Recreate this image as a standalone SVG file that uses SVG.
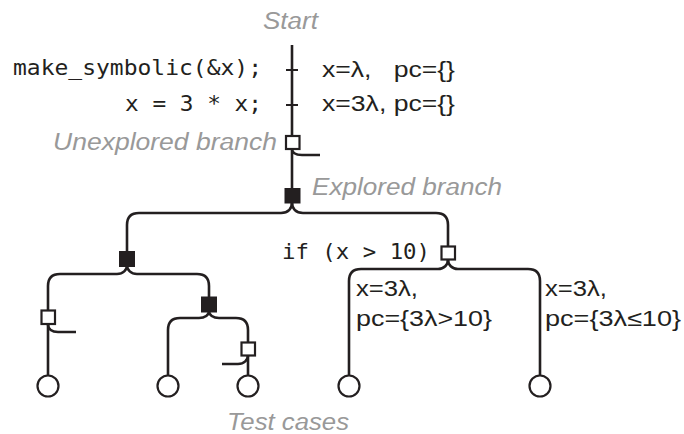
<svg xmlns="http://www.w3.org/2000/svg" width="684" height="434" viewBox="0 0 684 434">
<style>
.ln{fill:none;stroke:#231f20;stroke-width:2.6;stroke-linecap:butt}
.tk{fill:none;stroke:#231f20;stroke-width:2}
.open{fill:#fff;stroke:#231f20;stroke-width:2.2}
.done{fill:#231f20;stroke:#231f20;stroke-width:1}
.leaf{fill:#fff;stroke:#231f20;stroke-width:2.2}
.mono{font-family:"DejaVu Sans Mono","Liberation Mono",monospace;font-size:22px;fill:#231f20}
.sans{font-family:"Liberation Sans",Arial,sans-serif;font-size:22px;fill:#231f20}
.note{font-family:"Liberation Sans",Arial,sans-serif;font-size:23px;font-style:italic;fill:#999}
</style>
<rect width="684" height="434" fill="#fff"/>
<g id="connectors">
<path class="ln" d="M292,45 L292,137"/>
<path class="tk" d="M286,70 L298,70 M286,105 L298,105"/>
<path class="ln" d="M292,149 L292,189"/>
<path class="ln" d="M292,149 C292,154 296,155 302,155 L320,155"/>
<path class="ln" d="M292,202 C292,209 288,213 281,213 L139,213 Q127,213 127,225 L127,252"/>
<path class="ln" d="M292,202 C292,209 296,213 303,213 L436,213 Q448,213 448,225 L448,247"/>
<path class="ln" d="M448,259 C448,265 444,269 438,269 L361,269 Q349,269 349,281 L349,375"/>
<path class="ln" d="M448,259 C448,265 452,269 458,269 L528,269 Q540,269 540,281 L540,375"/>
<path class="ln" d="M127,265 C127,270 123,274 117,274 L60,274 Q48,274 48,286 L48,311"/>
<path class="ln" d="M127,265 C127,270 131,274 137,274 L197,274 Q209,274 209,286 L209,298"/>
<path class="ln" d="M48,324 L48,375"/>
<path class="ln" d="M48,324 C48,329 52,332 58,332 L76,332"/>
<path class="ln" d="M209,311 C209,315 205,318 199,318 L180,318 Q168,318 168,330 L168,375"/>
<path class="ln" d="M209,311 C209,315 213,318 219,318 L236,318 Q248,318 248,330 L248,343"/>
<path class="ln" d="M248,355 L248,375"/>
<path class="ln" d="M248,355 C248,360 244,364 238,364 L222,364"/>
</g>
<g id="start"><text class="note" x="263" y="29" textLength="55" lengthAdjust="spacingAndGlyphs">Start</text></g>
<g id="stmt1">
<text class="mono" x="13" y="75" textLength="249" lengthAdjust="spacingAndGlyphs">make_symbolic(&amp;x);</text>
<text class="sans" x="322" y="77" textLength="133" lengthAdjust="spacingAndGlyphs" xml:space="preserve">x=λ,   pc={}</text>
</g>
<g id="stmt2">
<text class="mono" x="125" y="111" textLength="137" lengthAdjust="spacingAndGlyphs">x = 3 * x;</text>
<text class="sans" x="322" y="111" textLength="133" lengthAdjust="spacingAndGlyphs">x=3λ, pc={}</text>
</g>
<g id="unexplored">
<rect class="open" x="286" y="136" width="13.5" height="13"/>
<text class="note" x="53" y="150" textLength="224" lengthAdjust="spacingAndGlyphs">Unexplored branch</text>
</g>
<g id="explored">
<rect class="done" x="285" y="188.5" width="15" height="14.5"/>
<text class="note" x="312" y="195" textLength="190" lengthAdjust="spacingAndGlyphs">Explored branch</text>
</g>
<g id="ifnode">
<rect class="open" x="441.5" y="246.5" width="13.5" height="13"/>
<text class="mono" x="282" y="259" textLength="148" lengthAdjust="spacingAndGlyphs">if (x &gt; 10)</text>
</g>
<g id="n-left"><rect class="done" x="119.5" y="251.5" width="15" height="15"/></g>
<g id="n-ll"><rect class="open" x="41.5" y="310.5" width="13.5" height="13.5"/></g>
<g id="n-lr"><rect class="done" x="201.5" y="297" width="15" height="15"/></g>
<g id="n-lrr"><rect class="open" x="241.5" y="342.5" width="13.5" height="13"/></g>
<g id="t1"><circle class="leaf" cx="48" cy="386" r="10.5"/></g>
<g id="t2"><circle class="leaf" cx="168" cy="386" r="10.5"/></g>
<g id="t3"><circle class="leaf" cx="248" cy="386" r="10.5"/></g>
<g id="t4">
<circle class="leaf" cx="349" cy="386" r="10.5"/>
<text class="sans" x="356" y="296" textLength="62" lengthAdjust="spacingAndGlyphs">x=3λ,</text>
<text class="sans" x="356" y="326" textLength="136" lengthAdjust="spacingAndGlyphs">pc={3λ&gt;10}</text>
</g>
<g id="t5">
<circle class="leaf" cx="540" cy="386" r="10.5"/>
<text class="sans" x="545" y="296" textLength="62" lengthAdjust="spacingAndGlyphs">x=3λ,</text>
<text class="sans" x="545" y="326" textLength="136" lengthAdjust="spacingAndGlyphs">pc={3λ≤10}</text>
</g>
<g id="testcases"><text class="note" x="227" y="430" textLength="122" lengthAdjust="spacingAndGlyphs">Test cases</text></g>
</svg>
